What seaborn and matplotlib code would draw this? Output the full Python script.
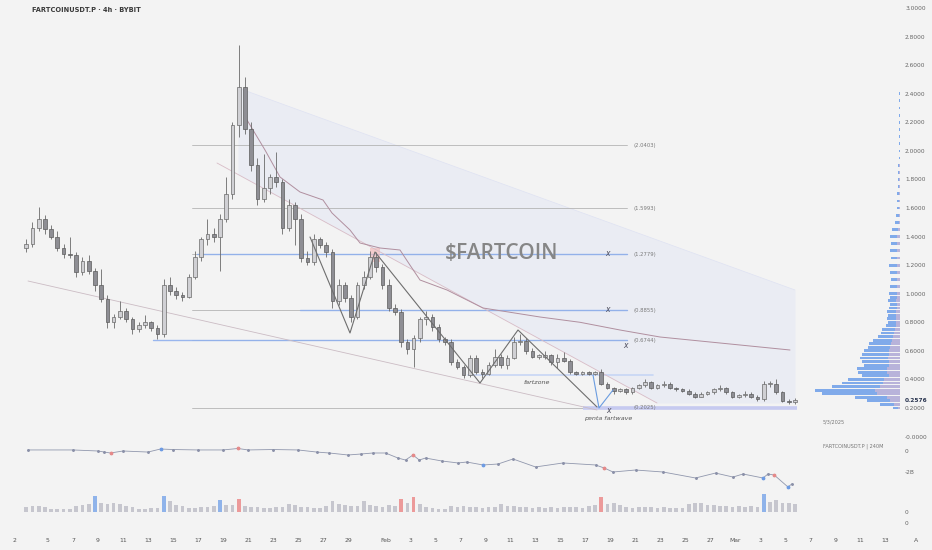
import numpy as np
import pandas as pd
import matplotlib
matplotlib.use("Agg")
import matplotlib.pyplot as plt
import seaborn as sns

# ---------------- data ----------------
# time axis in days, 0 = Jan 1 2025 00:00 ; one candle per 12 hours, first at day 2.0
candle_start = 2.0
candle_step = 0.5
opens = [1.32, 1.35, 1.46, 1.52, 1.45, 1.40, 1.32, 1.28, 1.27, 1.15,
         1.23, 1.16, 1.06, 0.96, 0.80, 0.84, 0.88, 0.82, 0.75, 0.78,
         0.80, 0.76, 0.72, 1.06, 1.02, 0.99, 0.98, 1.12, 1.26, 1.38,
         1.42, 1.40, 1.52, 1.70, 2.18, 2.45, 2.15, 1.90, 1.66, 1.74,
         1.82, 1.78, 1.46, 1.62, 1.52, 1.25, 1.22, 1.38, 1.34, 1.29,
         0.95, 1.06, 0.97, 0.84, 1.06, 1.12, 1.26, 1.19, 1.06, 0.90,
         0.87, 0.66, 0.61, 0.69, 0.82, 0.84, 0.77, 0.68, 0.66, 0.52,
         0.49, 0.43, 0.55, 0.45, 0.44, 0.50, 0.56, 0.50, 0.55, 0.66,
         0.67, 0.60, 0.56, 0.56, 0.57, 0.52, 0.55, 0.53, 0.45, 0.44,
         0.45, 0.44, 0.45, 0.37, 0.34, 0.32, 0.33, 0.31, 0.34, 0.36,
         0.38, 0.34, 0.36, 0.37, 0.34, 0.33, 0.32, 0.30, 0.28, 0.30,
         0.31, 0.33, 0.34, 0.31, 0.28, 0.29, 0.30, 0.28, 0.26, 0.37,
         0.37, 0.31, 0.25, 0.24]
highs = [1.38, 1.50, 1.61, 1.55, 1.48, 1.44, 1.35, 1.40, 1.29, 1.26,
         1.27, 1.18, 1.17, 0.99, 0.86, 0.95, 0.90, 0.84, 0.80, 0.85,
         0.81, 0.78, 1.10, 1.12, 1.05, 1.01, 1.14, 1.30, 1.40, 1.52,
         1.46, 1.56, 1.82, 2.20, 2.74, 2.52, 2.20, 1.95, 1.98, 1.84,
         1.99, 1.80, 1.66, 1.64, 1.56, 1.30, 1.42, 1.40, 1.36, 1.31,
         1.10, 1.08, 0.99, 1.08, 1.16, 1.30, 1.29, 1.21, 1.10, 0.93,
         0.89, 0.68, 0.71, 0.84, 0.88, 0.86, 0.79, 0.70, 0.68, 0.54,
         0.50, 0.57, 0.57, 0.47, 0.52, 0.61, 0.58, 0.57, 0.70, 0.72,
         0.69, 0.62, 0.58, 0.60, 0.58, 0.58, 0.59, 0.54, 0.46, 0.46,
         0.46, 0.46, 0.47, 0.38, 0.35, 0.34, 0.34, 0.35, 0.37, 0.40,
         0.39, 0.37, 0.39, 0.38, 0.35, 0.34, 0.33, 0.31, 0.31, 0.32,
         0.34, 0.36, 0.35, 0.32, 0.30, 0.32, 0.31, 0.29, 0.39, 0.39,
         0.40, 0.32, 0.26, 0.27]
lows = [1.29, 1.33, 1.44, 1.42, 1.38, 1.30, 1.25, 1.25, 1.12, 1.13,
        1.14, 1.02, 0.94, 0.76, 0.76, 0.82, 0.80, 0.72, 0.73, 0.76,
        0.74, 0.68, 0.70, 0.99, 0.96, 0.95, 0.97, 1.10, 1.23, 1.34,
        1.36, 1.16, 1.50, 1.66, 2.10, 2.12, 1.86, 1.62, 1.64, 1.70,
        1.75, 1.42, 1.44, 1.34, 1.22, 1.20, 1.20, 1.32, 1.26, 0.90,
        0.92, 0.94, 0.80, 0.82, 1.03, 1.10, 1.15, 1.03, 0.88, 0.85,
        0.63, 0.58, 0.49, 0.66, 0.78, 0.74, 0.66, 0.64, 0.50, 0.47,
        0.41, 0.42, 0.44, 0.41, 0.43, 0.49, 0.48, 0.47, 0.54, 0.64,
        0.58, 0.55, 0.54, 0.54, 0.50, 0.48, 0.52, 0.44, 0.43, 0.43,
        0.43, 0.43, 0.36, 0.33, 0.30, 0.31, 0.30, 0.30, 0.33, 0.35,
        0.33, 0.33, 0.35, 0.33, 0.32, 0.31, 0.29, 0.27, 0.28, 0.29,
        0.30, 0.32, 0.30, 0.27, 0.27, 0.28, 0.27, 0.25, 0.25, 0.35,
        0.30, 0.24, 0.23, 0.23]
closes = [1.35, 1.46, 1.52, 1.45, 1.40, 1.32, 1.28, 1.27, 1.15, 1.23,
          1.16, 1.06, 0.96, 0.80, 0.84, 0.88, 0.82, 0.75, 0.78, 0.80,
          0.76, 0.72, 1.06, 1.02, 0.99, 0.98, 1.12, 1.26, 1.38, 1.42,
          1.40, 1.52, 1.70, 2.18, 2.45, 2.15, 1.90, 1.66, 1.74, 1.82,
          1.78, 1.46, 1.62, 1.52, 1.25, 1.22, 1.38, 1.34, 1.29, 0.95,
          1.06, 0.97, 0.84, 1.06, 1.12, 1.26, 1.19, 1.06, 0.90, 0.87,
          0.66, 0.61, 0.69, 0.82, 0.84, 0.77, 0.68, 0.66, 0.52, 0.49,
          0.43, 0.55, 0.45, 0.44, 0.50, 0.56, 0.50, 0.55, 0.66, 0.67,
          0.60, 0.56, 0.56, 0.57, 0.52, 0.55, 0.53, 0.45, 0.44, 0.45,
          0.44, 0.45, 0.37, 0.34, 0.32, 0.33, 0.31, 0.34, 0.36, 0.38,
          0.34, 0.36, 0.37, 0.34, 0.33, 0.32, 0.30, 0.28, 0.30, 0.31,
          0.33, 0.34, 0.31, 0.28, 0.29, 0.30, 0.28, 0.26, 0.37, 0.37,
          0.31, 0.25, 0.24, 0.2576]
volumes = [50, 60, 60, 50, 30, 30, 30, 30, 60, 70,
           80, 160, 90, 80, 90, 80, 60, 50, 30, 30,
           40, 40, 160, 110, 70, 60, 40, 40, 50, 50,
           60, 120, 70, 70, 130, 60, 50, 50, 40, 40,
           50, 50, 80, 70, 50, 50, 40, 40, 60, 110,
           80, 70, 60, 60, 110, 70, 60, 50, 70, 60,
           130, 90, 150, 80, 50, 40, 30, 30, 60, 50,
           60, 50, 50, 40, 50, 50, 80, 60, 60, 50,
           50, 40, 50, 40, 50, 40, 50, 50, 50, 40,
           60, 70, 150, 80, 90, 70, 50, 40, 50, 50,
           50, 40, 50, 40, 40, 40, 80, 90, 90, 70,
           70, 60, 60, 50, 60, 50, 60, 50, 180, 100,
           120, 90, 90, 80]
vol_blue_days = [7.5, 13.0, 17.5, 61.0]
vol_red_days = [19.0, 32.0, 33.0, 48.0]

ma_days = [19.92, 21.36, 22.56, 24.16, 26.0, 26.72, 28.16, 28.96, 30.56, 32.16, 32.96, 33.76, 35.92,
           38.8, 43.36, 46.56, 49.76, 52.96, 56.96, 63.36]
ma_vals = [2.216, 2.006, 1.817, 1.712, 1.656, 1.565, 1.446, 1.355, 1.32, 1.306, 1.20, 1.096, 1.026,
           0.90, 0.837, 0.80, 0.746, 0.697, 0.662, 0.606]

obv_days = [2.4, 6, 8, 8.5, 9, 10, 12, 13, 14, 16, 18, 19.2, 20, 22, 24, 25.5, 26.5, 28, 29, 30, 31,
            32, 32.6, 33.2, 33.7, 34.2, 35.5, 36.8, 37.5, 38.8, 40, 41.2, 43, 45.2, 47.8, 48.5, 49.2,
            51, 53.2, 55.8, 57.4, 58.8, 59.6, 61.2, 61.6, 62.1, 63.2, 63.5]
obv_vals = [0.10, 0.10, 0.0, -0.10, -0.19, 0.0, -0.10, 0.19, 0.14, 0.10, 0.10, 0.24, 0.10, 0.14, 0.10,
            -0.10, -0.19, -0.38, -0.29, -0.19, -0.19, -0.67, -0.86, -0.38, -0.86, -0.67, -0.95, -1.14,
            -1.05, -1.33, -1.24, -0.76, -1.52, -1.14, -1.33, -1.62, -2.0, -1.81, -2.0, -2.57, -2.1,
            -2.48, -2.19, -2.57, -2.19, -2.29, -3.43, -3.14]
obv_red = [9, 19.2, 33.2, 48.5, 62.1]
obv_blue = [13, 38.8, 61.2, 63.2]

vp_levels = [0.200, 0.225, 0.250, 0.275, 0.300, 0.325, 0.350, 0.375, 0.400, 0.425, 0.450, 0.475, 0.500,
             0.525, 0.550, 0.575, 0.600, 0.625, 0.650, 0.675, 0.700, 0.725, 0.750, 0.775, 0.800, 0.825,
             0.850, 0.875, 0.900, 0.925, 0.950, 0.975, 1.000, 1.05, 1.10, 1.15, 1.20, 1.25, 1.30, 1.35,
             1.40, 1.45, 1.50, 1.55, 1.60, 1.65, 1.70, 1.75, 1.80, 1.85, 1.90, 1.95, 2.00, 2.05, 2.10,
             2.15, 2.20, 2.25, 2.30, 2.35, 2.40]
vp_volume = [7, 20, 33, 45, 78, 85, 68, 58, 52, 38, 42, 43, 36, 38, 40, 38, 36, 32, 31, 27, 22, 19, 18,
             14, 12, 13, 12, 13, 11, 10, 12, 10, 11, 10, 9, 10, 11, 9, 10, 9, 10, 8, 5, 4, 3, 3, 3, 2,
             2, 2, 2, 1.5, 1.5, 1.5, 1.5, 1.5, 1.5, 1, 1, 1, 1]

fib_levels = [2.0403, 1.5993, 1.2779, 0.8855, 0.6744, 0.2025]
blue_levels = [1.2779, 0.8855, 0.6744]
blue_starts = [15.9, 24.16, 12.4]

zig_days = [24.96, 28.16, 30.16, 38.56, 41.6, 47.92]
zig_vals = [1.397, 0.725, 1.292, 0.375, 0.746, 0.207]
wave_days = [47.6, 48.08, 49.2]
wave_vals = [0.431, 0.200, 0.326]
support_days = [2.4, 47.92]
support_vals = [1.089, 0.186]
diag_days = [17.52, 52.72]
diag_vals = [1.915, 0.235]
chan_days = [19.2, 63.76]
chan_top = [2.44, 1.026]
x_marks = [(48.72, 1.278), (48.72, 0.886), (50.16, 0.634), (48.8, 0.180)]

price_ticks = [3.0, 2.8, 2.6, 2.4, 2.2, 2.0, 1.8, 1.6, 1.4, 1.2, 1.0, 0.8, 0.6, 0.4, 0.2]
date_ticks = [1.3, 4, 6, 8, 10, 12, 14, 16, 18, 20, 22, 24, 26, 28, 31, 33, 35, 37, 39, 41, 43, 45, 47,
              49, 51, 53, 55, 57, 59, 61, 63, 65, 67, 69, 71]
date_labels = ["2", "5", "7", "9", "11", "13", "15", "17", "19", "21", "23", "25", "27", "29", "Feb",
               "3", "5", "7", "9", "11", "13", "15", "17", "19", "21", "23", "25", "27", "Mar", "3",
               "5", "7", "9", "11", "13"]

# ---------------- style ----------------
BG = "#f3f3f3"
sns.set_theme(style="white", rc={"axes.facecolor": BG, "figure.facecolor": BG})
plt.rcParams["font.family"] = ["DejaVu Sans"]

W, H = 932, 550
fig = plt.figure(figsize=(W / 100, H / 100), dpi=100)
rect = [0, (H - 532) / H, 900 / W, 532 / H]
XLIM = (0.16, 72.16)

ax = fig.add_axes(rect)
ax.set_xlim(*XLIM)
ax.set_ylim(-0.668, 3.056)

# shaded channel
xs = np.linspace(chan_days[0], chan_days[1], 300)
top = np.interp(xs, chan_days, chan_top)
bot = np.maximum(np.interp(xs, diag_days, diag_vals), 0.2)
ax.fill_between(xs, bot, top, color="#dfe3f5", alpha=0.42, lw=0, zorder=1)
ax.plot(chan_days, chan_top, color="#dde1f2", lw=0.5, zorder=1)

# fib / horizontal lines
for lv in fib_levels:
    ax.plot([15.52, 50.32], [lv, lv], color="#b4b4b4", lw=0.6, zorder=2)
    ax.text(50.8, lv, f"({lv:.4f})", fontsize=3.8, color="#7a7a7a", va="center", ha="left", zorder=6)
for lv, st in zip(blue_levels, blue_starts):
    ax.plot([st, 50.32], [lv, lv], color="#8fb0ee", lw=1.0, alpha=0.9, zorder=2)
ax.plot([46.8, 63.9], [0.2025, 0.2025], color="#c6caf0", lw=2.6, zorder=2, solid_capstyle="butt")
ax.plot([37.6, 52.4], [0.431, 0.431], color="#c7d6f5", lw=1.2, zorder=2)
ax.add_patch(plt.Rectangle((29.76, 1.222), 0.8, 0.098, color="#f3bcbc", alpha=0.7, lw=0, zorder=2))

# trend lines
ax.plot(support_days, support_vals, color="#cbbcc4", lw=0.6, zorder=2)
ax.plot(diag_days, diag_vals, color="#d8bcc6", lw=0.6, zorder=2)
sns.lineplot(x=ma_days, y=ma_vals, ax=ax, color="#b08f9f", lw=0.7, sort=False, zorder=2)

# candles
n = len(closes)
cx = candle_start + candle_step * np.arange(n) + candle_step / 2
df = pd.DataFrame({"t": cx, "o": opens, "h": highs, "l": lows, "c": closes})
up = df.c >= df.o
ax.vlines(df.t, df.l, df.h, color="#6a6a6a", lw=0.6, zorder=3)
hu = np.maximum((df.c - df.o)[up], 0.008)
hd = np.maximum((df.o - df.c)[~up], 0.008)
ax.bar(df.t[up], hu, bottom=df.o[up], width=0.3, color="#d0d0d4", edgecolor="#6a6a6a", lw=0.5, zorder=4)
ax.bar(df.t[~up], hd, bottom=df.c[~up], width=0.3, color="#8e8e94", edgecolor="#5c5c5c", lw=0.5, zorder=4)

# pattern zigzags
ax.plot(zig_days, zig_vals, color="#6e6e6e", lw=0.8, zorder=5)
ax.plot(wave_days, wave_vals, color="#6a9ce0", lw=0.8, zorder=5)
for xm, ym in x_marks:
    ax.text(xm, ym, "x", fontsize=5.5, color="#4a4a5a", style="italic", ha="center", va="center", zorder=6)

ax.text(40.3, 1.282, "$FARTCOIN", fontsize=15, color="#868686", ha="center", va="center",
        family=["Open Sans", "DejaVu Sans"], fontweight="semibold")
ax.text(43.1, 0.382, "fartzone", fontsize=4.6, color="#555", style="italic", ha="center", va="center")
ax.text(48.8, 0.128, "penta fartwave", fontsize=4.6, color="#555", style="italic", ha="center", va="center")
ax.text(66.0, 0.105, "5/3/2025", fontsize=3.6, color="#777", ha="left", va="center")
ax.text(66.0, -0.068, "FARTCOINUSDT.P | 240M", fontsize=3.6, color="#777", ha="left", va="center")

# axes ticks
ax.yaxis.tick_right()
yt = price_ticks + [0.0, 0.2576]
ax.set_yticks(yt)
ax.set_yticklabels([f"{v:.4f}" for v in price_ticks] + ["-0.0000", "0.2576"])
ax.set_xticks(date_ticks)
ax.set_xticklabels(date_labels)
ax.tick_params(axis="y", length=0, labelsize=4.2, colors="#666", pad=3.6)
ax.tick_params(axis="x", length=0, labelsize=4.4, colors="#555", pad=4.5)
lbl = ax.get_yticklabels()[-1]
lbl.set_color("#2a3550")
lbl.set_fontweight("bold")
for s in ax.spines.values():
    s.set_visible(False)

# OBV pane
ax2 = fig.add_axes(rect)
ax2.patch.set_alpha(0)
ax2.set_xlim(*XLIM)
ax2.set_ylim(-(532 - 451) / 10.5, 451 / 10.5)
sns.lineplot(x=obv_days, y=obv_vals, ax=ax2, color="#9097ad", lw=0.6, sort=False)
ax2.scatter(obv_days, obv_vals, s=1.2, color="#8a90a8", zorder=3)
od = dict(zip(obv_days, obv_vals))
ax2.scatter(obv_red, [od[d] for d in obv_red], s=3, color="#e58a8a", zorder=4)
ax2.scatter(obv_blue, [od[d] for d in obv_blue], s=3, color="#6d9be3", zorder=4)
ax2.set_xticks([])
ax2.yaxis.tick_right()
ax2.set_yticks([0, -2])
ax2.set_yticklabels(["0", "-2B"])
ax2.tick_params(axis="y", length=0, labelsize=4.2, colors="#666", pad=3.6)
ax2.set_xlabel(""); ax2.set_ylabel("")
for s in ax2.spines.values():
    s.set_visible(False)

# volume pane
ax3 = fig.add_axes(rect)
ax3.patch.set_alpha(0)
ax3.set_xlim(*XLIM)
ax3.set_ylim(-200, 5120)
vcol = []
for t in candle_start + candle_step * np.arange(n):
    if any(abs(t - b) < 1e-6 for b in vol_blue_days):
        vcol.append("#8fb3ea")
    elif any(abs(t - r) < 1e-6 for r in vol_red_days):
        vcol.append("#ec9a9a")
    else:
        vcol.append("#c6c6ce")
ax3.bar(cx, volumes, width=0.3, color=vcol, lw=0)
ax3.set_xticks([])
ax3.yaxis.tick_right()
ax3.set_yticks([0, -110])
ax3.set_yticklabels(["0", "0"])
ax3.tick_params(axis="y", length=0, labelsize=4.2, colors="#666", pad=3.6)
for s in ax3.spines.values():
    s.set_visible(False)

# volume profile
ax4 = fig.add_axes(rect)
ax4.patch.set_alpha(0)
ax4.set_xlim(900, 0)
ax4.set_ylim(-0.668, 3.056)
vpv = np.array(vp_volume)
ax4.barh(vp_levels, vpv, height=0.019, color="#74a2ea", lw=0, alpha=0.9)
ax4.barh(vp_levels, vpv * 0.3, height=0.019, color="#e7bccd", lw=0, alpha=0.55)
ax4.set_xticks([]); ax4.set_yticks([])
for s in ax4.spines.values():
    s.set_visible(False)

fig.text(32 / W, 1 - 10 / H, "FARTCOINUSDT.P · 4h · BYBIT", fontsize=4.8, color="#3a3a3a",
         fontweight="bold", ha="left", va="center")
fig.text(916 / W, 1 - 541 / H, "A", fontsize=4.4, color="#555", ha="center", va="center")

fig.savefig("out.png", dpi=100, facecolor=BG)
